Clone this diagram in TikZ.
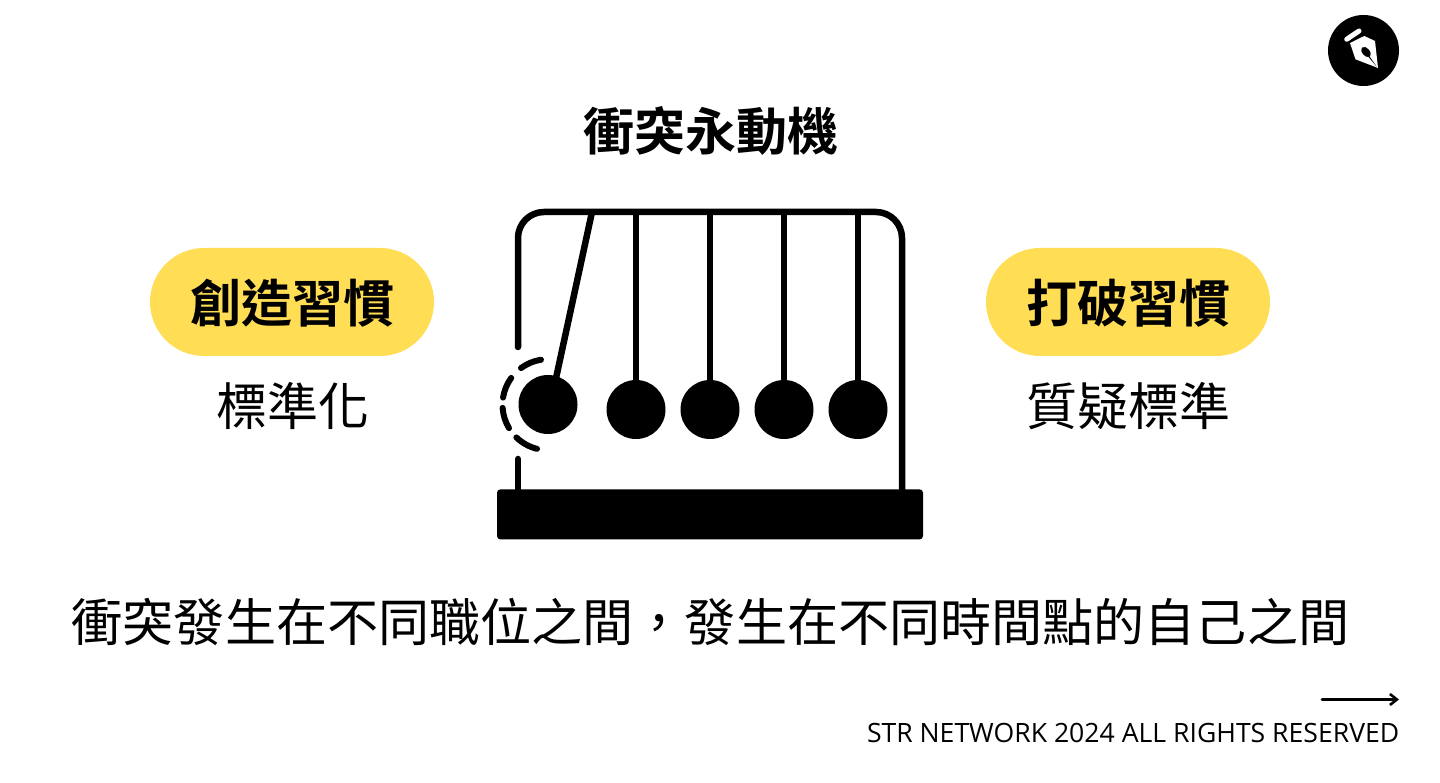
\documentclass[tikz,border=0pt]{standalone}
\usepackage{fontspec}
\setmainfont[BoldFont={Noto Sans CJK TC Bold}]{Noto Sans CJK TC}
\newfontfamily\latinfont{Open Sans}
\usetikzlibrary{arrows.meta}
\definecolor{pillyellow}{HTML}{FFDD55}
\tikzset{
  x=1pt,y=1pt,
  frame/.style={line width=6.5pt,line cap=round,line join=round},
  pill/.style={fill=pillyellow,draw=none,rounded corners=54pt,minimum width=284pt,minimum height=108pt,inner sep=0pt},
  bigbold/.style={font=\fontsize{51}{51}\selectfont\bfseries,anchor=base,inner sep=0pt},
  bigreg/.style={font=\fontsize{51}{51}\selectfont,anchor=base,inner sep=0pt},
}
\begin{document}
\begin{tikzpicture}
\useasboundingbox (0,0) rectangle (1440,782);
\fill[white] (0,0) rectangle (1440,782);
% logo
\fill (1363.5,731.5) circle (35.5);
\draw[white,line width=5pt,line cap=round] (1346.7,742.7) -- (1359,751);
\fill[white] (1350,739) -- (1364.3,746) -- (1375,741) -- (1378,714) -- (1355.5,722.7) -- cycle;
\fill[black,rotate around={-48:(1366,730)}] (1366,730) ellipse (6 and 3.6);
\fill[black] (1363,731.5) -- (1368.5,727) -- (1376.7,715.3) -- cycle;
% title
\node[bigbold] (title) at (710.5,631) {衝突永動機};
% pills
\node[pill] (pillL) at (292,480) {};
\node[pill] (pillR) at (1128,480) {};
\node[bigbold] (tL) at (292,459.5) {創造習慣};
\node[bigbold] (tR) at (1128,459.5) {打破習慣};
\node[bigreg] (sL) at (292.7,356) {標準化};
\node[bigreg] (sR) at (1128,356) {質疑標準};
% cradle
\draw[frame] (518,435) -- (518,544) arc[start angle=180,end angle=90,radius=26] -- (876,570) arc[start angle=90,end angle=0,radius=26] -- (902,292);
\draw[frame] (518,323) -- (518,292);
\fill[rounded corners=3.5pt] (497,242.5) rectangle (923,292.7);
\foreach \x in {636,710,784,858}{
  \draw[line width=6.5pt] (\x,570) -- (\x,372);
  \fill (\x,372.5) circle (29.5);
}
\draw[line width=6.5pt] (592,570) -- (553,390);
\fill (548,377.5) circle (29.5);
\foreach \a/\b in {98.9/126.4,144/171,184/211,226/256}{
  \draw[line width=6pt,line cap=round] ([shift={(548,377.3)}]\a:45.5) arc[start angle=\a,end angle=\b,radius=45.5];
}
% bottom
\node[bigreg,font=\fontsize{51.1}{51.1}\selectfont] (body) at (710.5,140) {衝突發生在不同職位之間，發生在不同時間點的自己之間};
\coordinate (arrowA) at (1322,82.5);
\coordinate (arrowB) at (1399,82.5);
\draw[line width=3pt,line cap=round,-{Straight Barb[length=7pt,width=11pt,line width=2.6pt]}] (arrowA) -- (arrowB);
\node[font=\latinfont\fontsize{26.6}{26.6}\selectfont,anchor=base east,inner sep=0pt] (foot) at (1399.5,40) {STR NETWORK 2024 ALL RIGHTS RESERVED};
\end{tikzpicture}
\end{document}
